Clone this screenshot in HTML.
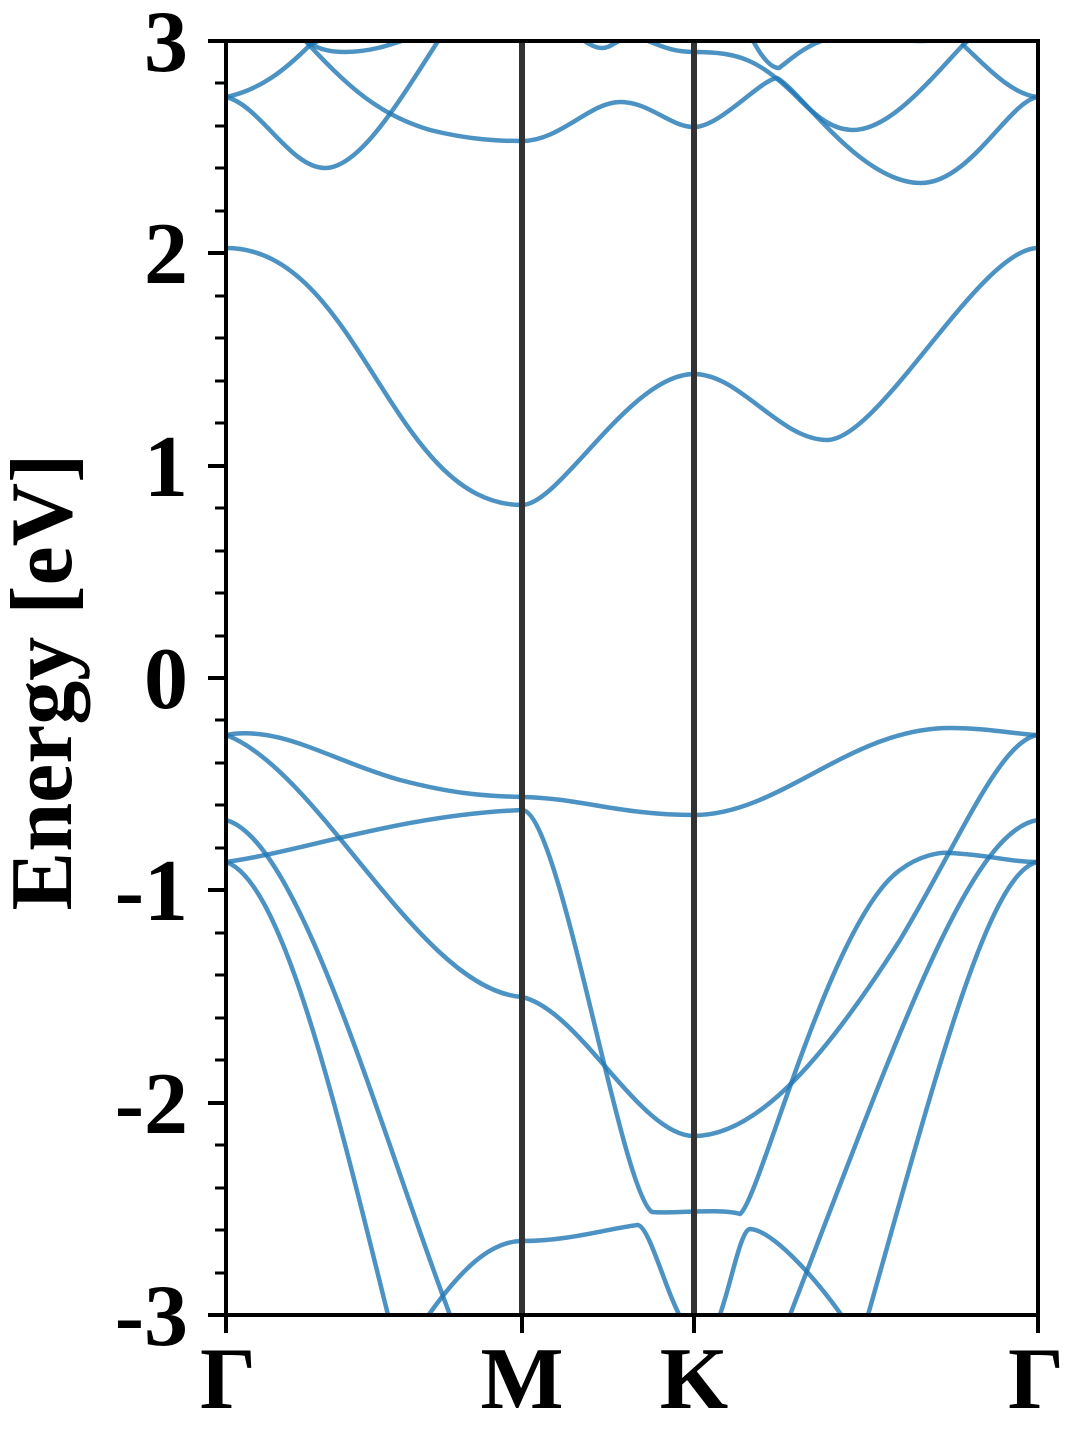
<!DOCTYPE html>
<html><head><meta charset="utf-8"><style>
html,body{margin:0;padding:0;background:#fff}
svg{display:block}
text{font-family:"Liberation Serif",serif;font-weight:bold;fill:#000}
</style></head><body>
<svg width="1080" height="1440" viewBox="0 0 1080 1440" xmlns="http://www.w3.org/2000/svg">
<defs><clipPath id="c"><rect x="226" y="41" width="812" height="1274"/></clipPath></defs>
<g clip-path="url(#c)" fill="none" stroke="#1f77b4" stroke-opacity="0.8" stroke-width="4.5" stroke-linecap="round" stroke-linejoin="round">
<path d="M226,248 C360,248 390,505 522,505 C560,505 630,374 694,374 C740,374 780,440 827,440 C880,440 980,248 1038,248"/>
<path d="M226,735 C280,725 330,760 400,780 C450,793 480,796 522,797 C580,798 620,815 694,815 C780,815 850,728 950,728 C990,728 1020,735 1038,735"/>
<path d="M226,735 C320,770 420,990 522,997 C580,1010 640,1136 694,1136 C760,1136 830,1050 900,940 C960,840 1000,740 1038,735"/>
<path d="M226,862 C300,852 400,815 522,810 C560,810 620,1190 652,1212 C670,1214 720,1208 740,1214 C760,1200 830,920 900,870 C920,855 940,852 950,853 C990,855 1010,862 1038,862"/>
<path d="M226,820 C300,840 380,1130 450,1315"/>
<path d="M226,862 C280,880 330,1080 388,1315"/>
<path d="M1038,820 C970,830 900,1030 790,1315"/>
<path d="M1038,862 C990,870 940,1060 868,1315"/>
<path d="M425,1320 C460,1270 490,1241 522,1241 C570,1241 610,1228 638,1225 C650,1228 665,1290 682,1320"/>
<path d="M718,1320 C730,1290 740,1230 750,1229 C770,1230 810,1270 845,1320"/>
<path d="M226,97 C260,90 285,70 310,45 C330,35 340,30 360,25"/>
<path d="M226,97 C260,105 290,168 325,168 C360,168 400,100 440,38"/>
<path d="M300,35 C315,50 330,52 345,52 C370,52 390,45 410,38"/>
<path d="M300,35 C350,90 380,115 430,130 C470,140 500,141 522,141 C560,141 590,102 620,102 C650,102 670,127 694,127 C720,127 760,80 777,78 C800,90 860,183 921,183 C970,183 1010,100 1038,97"/>
<path d="M640,38 C660,45 670,52 694,52 C740,52 760,60 800,100 C820,120 835,130 853,130 C890,130 930,80 963,45 C980,60 1010,95 1038,97"/>
<path d="M963,45 C975,35 980,30 990,25"/>
<path d="M750,35 C760,55 770,68 779,68 C790,60 805,45 830,38"/>
<path d="M580,38 C590,45 596,48 602,48 C610,48 615,42 625,38"/>
<path d="M890,38 C910,42 930,42 950,38"/>
</g>
<line x1="522" y1="41" x2="522" y2="1315" stroke="#333" stroke-width="6"/>
<line x1="694" y1="41" x2="694" y2="1315" stroke="#333" stroke-width="6"/>
<rect x="226" y="41" width="812" height="1274" fill="none" stroke="#000" stroke-width="4"/>
<g stroke="#000" stroke-width="4">
<line x1="208" y1="41" x2="226" y2="41"/>
<line x1="208" y1="253" x2="226" y2="253"/>
<line x1="208" y1="466" x2="226" y2="466"/>
<line x1="208" y1="678" x2="226" y2="678"/>
<line x1="208" y1="890" x2="226" y2="890"/>
<line x1="208" y1="1103" x2="226" y2="1103"/>
<line x1="208" y1="1315" x2="226" y2="1315"/>
</g>
<g stroke="#000" stroke-width="3">
<line x1="215" y1="83" x2="226" y2="83"/><line x1="215" y1="126" x2="226" y2="126"/><line x1="215" y1="168" x2="226" y2="168"/><line x1="215" y1="211" x2="226" y2="211"/>
<line x1="215" y1="296" x2="226" y2="296"/><line x1="215" y1="338" x2="226" y2="338"/><line x1="215" y1="381" x2="226" y2="381"/><line x1="215" y1="423" x2="226" y2="423"/>
<line x1="215" y1="508" x2="226" y2="508"/><line x1="215" y1="551" x2="226" y2="551"/><line x1="215" y1="593" x2="226" y2="593"/><line x1="215" y1="636" x2="226" y2="636"/>
<line x1="215" y1="720" x2="226" y2="720"/><line x1="215" y1="763" x2="226" y2="763"/><line x1="215" y1="805" x2="226" y2="805"/><line x1="215" y1="848" x2="226" y2="848"/>
<line x1="215" y1="933" x2="226" y2="933"/><line x1="215" y1="975" x2="226" y2="975"/><line x1="215" y1="1018" x2="226" y2="1018"/><line x1="215" y1="1060" x2="226" y2="1060"/>
<line x1="215" y1="1145" x2="226" y2="1145"/><line x1="215" y1="1188" x2="226" y2="1188"/><line x1="215" y1="1230" x2="226" y2="1230"/><line x1="215" y1="1273" x2="226" y2="1273"/>
</g>
<g stroke="#000" stroke-width="4">
<line x1="226" y1="1315" x2="226" y2="1333"/>
<line x1="522" y1="1315" x2="522" y2="1333"/>
<line x1="694" y1="1315" x2="694" y2="1333"/>
<line x1="1038" y1="1315" x2="1038" y2="1333"/>
</g>
<g font-size="88" text-anchor="end">
<text x="188" y="71">3</text>
<text x="188" y="283">2</text>
<text x="188" y="496">1</text>
<text x="188" y="708">0</text>
<text x="188" y="920">-1</text>
<text x="188" y="1133">-2</text>
<text x="188" y="1345">-3</text>
</g>
<g font-size="88" text-anchor="middle">
<text x="228" y="1408">Γ</text>
<text x="522" y="1408">M</text>
<text x="694" y="1408">K</text>
<text x="1036" y="1408">Γ</text>
</g>
<text x="71" y="682" font-size="88" text-anchor="middle" transform="rotate(-90 71 682)">Energy [eV]</text>
</svg>
</body></html>
